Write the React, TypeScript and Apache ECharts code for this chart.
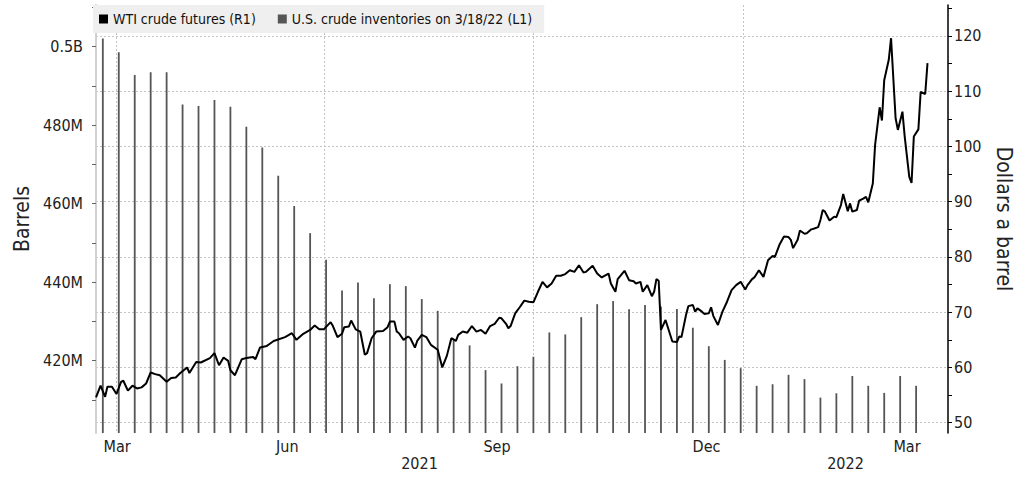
import React, { useEffect, useRef } from "react";
import * as echarts from "echarts";

const FONT = "'DejaVu Sans Condensed', 'DejaVu Sans', sans-serif";

// ---- x axis (dates) ----
const X_MIN = "2021-03-23";
const X_MAX = "2022-04-01";
const quarterStarts = ["2021-04-01", "2021-07-01", "2021-10-01", "2022-01-01"];
const monthLabelDates = ["2021-03-27", "2021-06-15", "2021-09-15", "2021-12-16", "2022-03-14"];
const monthLabelNames = ["Mar", "Jun", "Sep", "Dec", "Mar"];
const yearLabelDates = ["2021-08-12", "2022-02-15"];

// ---- left axis (million barrels) ----
const L_MIN = 401.58;
const L_MAX = 510.62;
const leftTicks = [410, 420, 430, 440, 450, 460, 470, 480, 490, 500, 510];
const leftLabels = [420, 440, 460, 480, 500];

// ---- right axis (dollars a barrel) ----
const R_MIN = 48.14;
const R_MAX = 125.61;
const rightTicks = [50, 55, 60, 65, 70, 75, 80, 85, 90, 95, 100, 105, 110, 115, 120, 125];
const rightLabels = [50, 60, 70, 80, 90, 100, 110, 120];

// ---- U.S. crude inventories, weekly (million barrels) ----
const inventoryDates = [
  "2021-03-26", "2021-04-02", "2021-04-09", "2021-04-16", "2021-04-23", "2021-04-30",
  "2021-05-07", "2021-05-14", "2021-05-21", "2021-05-28", "2021-06-04", "2021-06-11",
  "2021-06-18", "2021-06-25", "2021-07-02", "2021-07-09", "2021-07-16", "2021-07-23",
  "2021-07-30", "2021-08-06", "2021-08-13", "2021-08-20", "2021-08-27", "2021-09-03",
  "2021-09-10", "2021-09-17", "2021-09-24", "2021-10-01", "2021-10-08", "2021-10-15",
  "2021-10-22", "2021-10-29", "2021-11-05", "2021-11-12", "2021-11-19", "2021-11-26",
  "2021-12-03", "2021-12-10", "2021-12-17", "2021-12-24", "2021-12-31", "2022-01-07",
  "2022-01-14", "2022-01-21", "2022-01-28", "2022-02-04", "2022-02-11", "2022-02-18",
  "2022-02-25", "2022-03-04", "2022-03-11", "2022-03-18",
];
const inventoryValues = [
  502.1, 498.6, 492.8, 493.5, 493.5, 485.3, 484.9, 486.4, 484.7, 479.6, 474.3, 467.1,
  459.4, 452.5, 445.7, 437.9, 439.9, 435.9, 439.5, 439.0, 435.7, 432.7, 425.5, 423.9,
  417.6, 414.2, 418.6, 421.0, 427.2, 426.7, 431.1, 434.4, 435.2, 433.1, 434.2, 433.8,
  433.2, 428.4, 423.7, 420.2, 418.1, 413.6, 414.0, 416.4, 415.3, 410.6, 411.7, 416.1,
  413.6, 411.8, 416.1, 413.6,
];

// ---- WTI crude futures (dollars a barrel) ----
const wti: [string, number][] = [
  ["2021-03-23", 54.6], ["2021-03-25", 56.7], ["2021-03-27", 54.7], ["2021-03-28", 56.5],
  ["2021-03-30", 56.5], ["2021-04-01", 55.2], ["2021-04-03", 57.4], ["2021-04-04", 57.6],
  ["2021-04-06", 55.8], ["2021-04-08", 56.7], ["2021-04-10", 56.2], ["2021-04-12", 56.4],
  ["2021-04-14", 57.1], ["2021-04-16", 59.1], ["2021-04-18", 58.8], ["2021-04-20", 58.6],
  ["2021-04-23", 57.4], ["2021-04-25", 58.1], ["2021-04-27", 58.2], ["2021-04-29", 59.0],
  ["2021-05-02", 60.0], ["2021-05-03", 59.0], ["2021-05-06", 61.0], ["2021-05-08", 60.9],
  ["2021-05-12", 61.7], ["2021-05-14", 62.6], ["2021-05-16", 60.4], ["2021-05-18", 61.8],
  ["2021-05-20", 61.2], ["2021-05-21", 59.5], ["2021-05-23", 58.6], ["2021-05-26", 61.5],
  ["2021-05-28", 61.7], ["2021-05-31", 61.9], ["2021-06-01", 61.5], ["2021-06-03", 63.6],
  ["2021-06-06", 63.9], ["2021-06-07", 64.2], ["2021-06-09", 64.8], ["2021-06-14", 65.5],
  ["2021-06-17", 66.2], ["2021-06-19", 65.0], ["2021-06-22", 66.1], ["2021-06-25", 66.8],
  ["2021-06-27", 67.6], ["2021-06-29", 66.9], ["2021-07-01", 66.9], ["2021-07-04", 68.2],
  ["2021-07-05", 67.5], ["2021-07-07", 65.5], ["2021-07-09", 66.1], ["2021-07-10", 67.3],
  ["2021-07-12", 67.4], ["2021-07-13", 68.5], ["2021-07-15", 66.9], ["2021-07-17", 66.5],
  ["2021-07-19", 62.3], ["2021-07-20", 62.6], ["2021-07-22", 65.3], ["2021-07-24", 66.5],
  ["2021-07-27", 66.6], ["2021-07-29", 67.3], ["2021-07-30", 68.3], ["2021-08-01", 68.3],
  ["2021-08-02", 66.5], ["2021-08-03", 66.2], ["2021-08-05", 65.0], ["2021-08-07", 65.6],
  ["2021-08-08", 65.3], ["2021-08-10", 63.6], ["2021-08-11", 64.8], ["2021-08-13", 65.9],
  ["2021-08-15", 65.5], ["2021-08-17", 64.1], ["2021-08-20", 63.2], ["2021-08-22", 60.0],
  ["2021-08-24", 62.1], ["2021-08-26", 65.3], ["2021-08-28", 64.8], ["2021-08-29", 65.9],
  ["2021-08-31", 66.5], ["2021-09-02", 66.3], ["2021-09-04", 67.5], ["2021-09-06", 66.5],
  ["2021-09-08", 66.8], ["2021-09-10", 66.1], ["2021-09-12", 67.5], ["2021-09-14", 67.9],
  ["2021-09-16", 69.0], ["2021-09-17", 68.9], ["2021-09-19", 67.9], ["2021-09-20", 67.1],
  ["2021-09-21", 67.5], ["2021-09-23", 69.8], ["2021-09-25", 70.9], ["2021-09-27", 72.1],
  ["2021-09-29", 71.9], ["2021-10-01", 71.8], ["2021-10-03", 73.7], ["2021-10-05", 75.5],
  ["2021-10-07", 74.5], ["2021-10-09", 75.2], ["2021-10-11", 76.6], ["2021-10-13", 76.6],
  ["2021-10-15", 76.9], ["2021-10-17", 77.6], ["2021-10-19", 77.3], ["2021-10-21", 78.5],
  ["2021-10-23", 77.2], ["2021-10-24", 77.3], ["2021-10-27", 78.4], ["2021-10-29", 77.0],
  ["2021-10-31", 76.3], ["2021-11-03", 77.0], ["2021-11-04", 75.2], ["2021-11-06", 73.7],
  ["2021-11-07", 76.0], ["2021-11-10", 77.5], ["2021-11-12", 75.8], ["2021-11-14", 75.6],
  ["2021-11-15", 75.2], ["2021-11-17", 75.5], ["2021-11-18", 73.7], ["2021-11-20", 74.9],
  ["2021-11-22", 72.9], ["2021-11-23", 73.7], ["2021-11-24", 76.0], ["2021-11-25", 75.7],
  ["2021-11-26", 66.8], ["2021-11-28", 68.6], ["2021-12-01", 64.7], ["2021-12-03", 64.6],
  ["2021-12-04", 65.6], ["2021-12-05", 65.5], ["2021-12-07", 69.5], ["2021-12-08", 71.1],
  ["2021-12-10", 71.3], ["2021-12-11", 70.1], ["2021-12-12", 70.7], ["2021-12-14", 70.1],
  ["2021-12-15", 69.7], ["2021-12-17", 69.8], ["2021-12-18", 70.9], ["2021-12-19", 69.3],
  ["2021-12-21", 67.7], ["2021-12-23", 70.1], ["2021-12-25", 71.9], ["2021-12-27", 74.0],
  ["2021-12-29", 74.9], ["2021-12-31", 75.5], ["2022-01-02", 74.1], ["2022-01-03", 74.9],
  ["2022-01-05", 76.0], ["2022-01-06", 76.3], ["2022-01-08", 77.6], ["2022-01-10", 76.4],
  ["2022-01-12", 79.4], ["2022-01-14", 80.2], ["2022-01-15", 80.0], ["2022-01-17", 82.2],
  ["2022-01-19", 83.7], ["2022-01-21", 83.6], ["2022-01-22", 83.1], ["2022-01-23", 81.6],
  ["2022-01-25", 83.1], ["2022-01-26", 84.8], ["2022-01-28", 84.2], ["2022-01-29", 84.3],
  ["2022-01-31", 85.0], ["2022-02-01", 85.1], ["2022-02-03", 85.4], ["2022-02-04", 86.7],
  ["2022-02-05", 88.5], ["2022-02-06", 88.2], ["2022-02-08", 86.6], ["2022-02-10", 87.3],
  ["2022-02-11", 87.2], ["2022-02-13", 89.4], ["2022-02-14", 91.4], ["2022-02-16", 88.3],
  ["2022-02-17", 89.7], ["2022-02-18", 88.2], ["2022-02-20", 88.5], ["2022-02-21", 90.2],
  ["2022-02-23", 90.6], ["2022-02-24", 90.9], ["2022-02-25", 89.9], ["2022-02-27", 93.3],
  ["2022-02-28", 100.3], ["2022-03-02", 107.1], ["2022-03-03", 104.7], ["2022-03-04", 112.0],
  ["2022-03-06", 115.7], ["2022-03-07", 119.6], ["2022-03-09", 105.1], ["2022-03-10", 103.0],
  ["2022-03-12", 106.3], ["2022-03-13", 101.8], ["2022-03-15", 94.5], ["2022-03-16", 93.4],
  ["2022-03-17", 101.8], ["2022-03-19", 103.1], ["2022-03-20", 109.9], ["2022-03-22", 109.5],
  ["2022-03-23", 115.1],
];

const WTI_NAME = "WTI crude futures (R1)";
const INV_NAME = "U.S. crude inventories on 3/18/22 (L1)";

const ts = (s: string) => {
  const [y, m, d] = s.split("-").map(Number);
  return Date.UTC(y, m - 1, d);
};

const gridDash = { color: "#c4c4c4", width: 1, type: [2, 2] as number[] };
const labelBase = { fontFamily: FONT, fontSize: 16, color: "#222" };

export default function App() {
  const ref = useRef<HTMLDivElement>(null);

  useEffect(() => {
    if (!ref.current) return;
    const chart = echarts.init(ref.current, undefined, { renderer: "svg" });
    const monthTs = monthLabelDates.map(ts);

    const option: any = {
      animation: false,
      textStyle: { fontFamily: FONT },
      grid: { left: 96, right: 80, top: 5, bottom: 45, containLabel: false },
      legend: {
        left: 93,
        top: 5,
        padding: [7, 12, 7, 6],
        itemGap: 22,
        itemWidth: 9,
        itemHeight: 9,
        backgroundColor: "#efefef",
        selectedMode: false,
        textStyle: { fontFamily: FONT, fontSize: 14, color: "#111" },
        data: [
          { name: WTI_NAME, icon: "rect", itemStyle: { color: "#000" } },
          { name: INV_NAME, icon: "rect", itemStyle: { color: "#555" } },
        ],
      },
      xAxis: [
        {
          type: "value",
          min: ts(X_MIN),
          max: ts(X_MAX),
          axisLine: { show: false },
          axisTick: { show: false, customValues: quarterStarts.map(ts) },
          splitLine: { show: true, lineStyle: gridDash },
          axisLabel: {
            ...labelBase,
            margin: 5,
            customValues: monthTs,
            formatter: (v: number) => {
              let best = 0;
              for (let i = 0; i < monthTs.length; i++) {
                if (Math.abs(monthTs[i] - v) < Math.abs(monthTs[best] - v)) best = i;
              }
              return best === 0 ? `{pad|${monthLabelNames[best]}}` : monthLabelNames[best];
            },
            rich: { pad: { ...labelBase, padding: [0, 0, 0, 24] } },
          },
        },
        {
          type: "value",
          min: ts(X_MIN),
          max: ts(X_MAX),
          position: "bottom",
          offset: 14,
          axisLine: { show: false },
          axisTick: { show: false },
          splitLine: { show: false },
          axisLabel: {
            ...labelBase,
            margin: 8,
            customValues: yearLabelDates.map(ts),
            formatter: (v: number) => String(new Date(v).getUTCFullYear()),
          },
        },
      ],
      yAxis: [
        {
          type: "value",
          position: "left",
          min: L_MIN,
          max: L_MAX,
          name: "Barrels",
          nameLocation: "middle",
          nameRotate: 90,
          nameGap: 63,
          nameTextStyle: { fontFamily: FONT, fontSize: 21, color: "#222" },
          axisLine: { show: true, lineStyle: { color: "#d0d0d0", width: 2 } },
          axisTick: { show: true, length: 4, customValues: leftTicks, lineStyle: { color: "#666" } },
          axisLabel: {
            ...labelBase,
            margin: 13,
            customValues: leftLabels,
            formatter: (v: number) => (v >= 500 ? `${v / 1000}B` : `${v}M`),
          },
          splitLine: { show: false },
        },
        {
          type: "value",
          position: "right",
          min: R_MIN,
          max: R_MAX,
          name: "Dollars a barrel",
          nameLocation: "middle",
          nameRotate: -90,
          nameGap: 45,
          nameTextStyle: { fontFamily: FONT, fontSize: 21, color: "#222" },
          axisLine: { show: true, lineStyle: { color: "#000", width: 1.5 } },
          axisTick: { show: true, length: 4, customValues: rightTicks, lineStyle: { color: "#000" } },
          axisLabel: { ...labelBase, margin: 6, customValues: rightLabels },
          splitLine: { show: false },
        },
        {
          type: "value",
          position: "right",
          min: R_MIN,
          max: R_MAX,
          axisLine: { show: false },
          axisTick: { show: false, customValues: rightLabels },
          axisLabel: { show: false },
          splitLine: { show: true, lineStyle: gridDash },
        },
      ],
      series: [
        {
          name: INV_NAME,
          type: "bar",
          xAxisIndex: 0,
          yAxisIndex: 0,
          barWidth: 1.8,
          clip: true,
          itemStyle: { color: "#555" },
          data: inventoryDates.map((d, i) => [ts(d), inventoryValues[i]]),
          z: 2,
        },
        {
          name: WTI_NAME,
          type: "line",
          xAxisIndex: 0,
          yAxisIndex: 1,
          symbol: "none",
          showSymbol: false,
          itemStyle: { color: "#000" },
          lineStyle: { color: "#000", width: 2 },
          data: wti.map(([d, v]) => [ts(d), v]),
          z: 3,
        },
      ],
    };
    chart.setOption(option);
    return () => chart.dispose();
  }, []);

  return (
    <div
      ref={ref}
      style={{ position: "fixed", left: 0, top: 0, width: 1028, height: 478, background: "#fff" }}
    />
  );
}
